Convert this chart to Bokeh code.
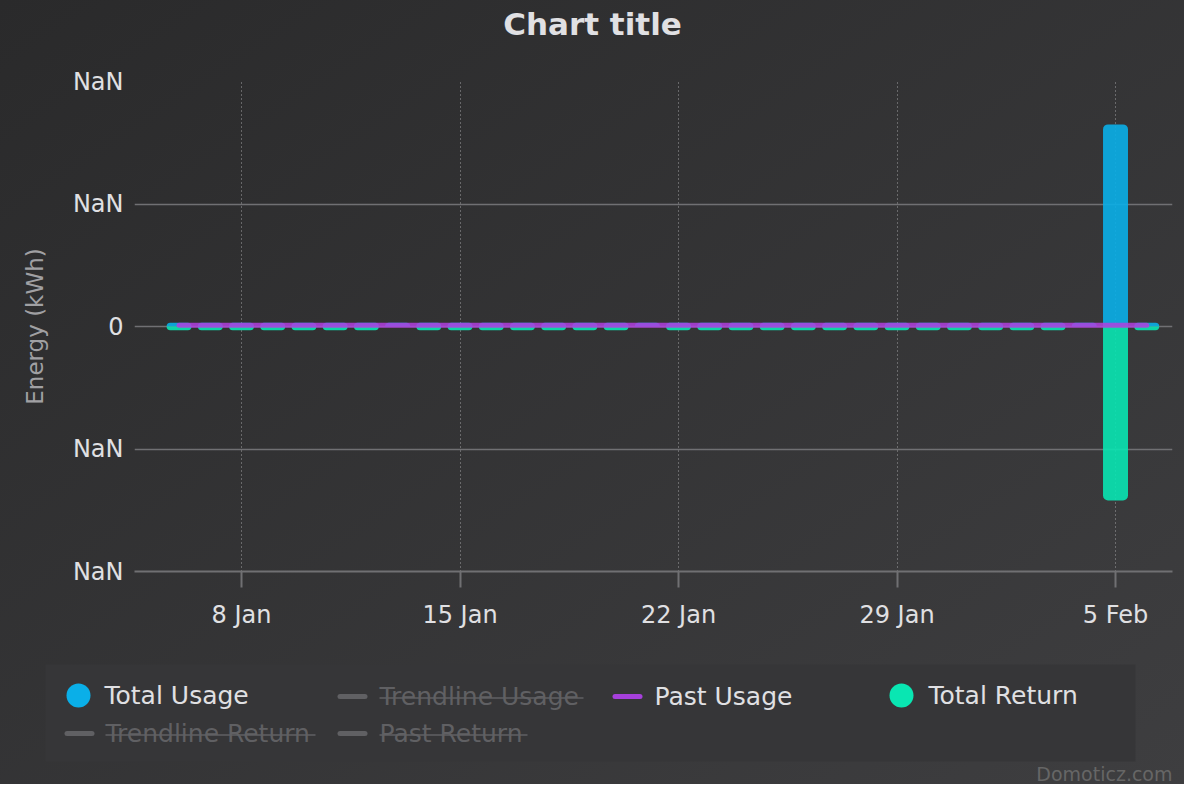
import pandas as pd
from bokeh.plotting import figure
from bokeh.layouts import column
from bokeh.models import Range1d, FixedTicker, ColumnDataSource
from bokeh.core.properties import value
from bokeh.embed import file_html
from bokeh.resources import INLINE

# ---------------- data ----------------
dates = pd.date_range("2024-01-06", "2024-02-06", freq="D")
total_usage = [0.3, 0.3, 0.3, 0.3, 0.3, 0.3, 0.3, 0.3, 0.3, 0.3,
               0.3, 0.3, 0.3, 0.3, 0.3, 0.3, 0.3, 0.3, 0.3, 0.3,
               0.3, 0.3, 0.3, 0.3, 0.3, 0.3, 0.3, 0.3, 0.3, 0.3,
               16.5, 0.3]
total_return = [-0.3, -0.3, -0.3, -0.3, -0.3, -0.3, -0.3, 0.0, -0.3, -0.3,
                -0.3, -0.3, -0.3, -0.3, -0.3, 0.0, -0.3, -0.3, -0.3, -0.3,
                -0.3, -0.3, -0.3, -0.3, -0.3, -0.3, -0.3, -0.3, -0.3, 0.0,
                -14.2, -0.3]
past_usage = [0.1, 0.1, 0.1, 0.1, 0.1, 0.1, 0.1, 0.1, 0.1, 0.1,
              0.1, 0.1, 0.1, 0.1, 0.1, 0.1, 0.1, 0.1, 0.1, 0.1,
              0.1, 0.1, 0.1, 0.1, 0.1, 0.1, 0.1, 0.1, 0.1, 0.1,
              0.1, 0.1]
x_tick_dates = ["2024-01-08", "2024-01-15", "2024-01-22", "2024-01-29", "2024-02-05"]
x_tick_labels = ["8 Jan", "15 Jan", "22 Jan", "29 Jan", "5 Feb"]
y_ticks = [-20, -10, 0, 10, 20]
y_tick_labels = ["NaN", "NaN", "0", "NaN", "NaN"]
legend_items = ["Total Usage", "Trendline Usage", "Past Usage",
                "Total Return", "Trendline Return", "Past Return"]
legend_hidden = [False, True, False, False, True, True]

# ---------------- style ----------------
W = 1184
OFF = 8             # page margin
TOP_SPLIT = 68      # reference y where the title strip ends
SPLIT = 650         # reference y where the chart part ends and the legend part starts
BOTTOM = 800 - OFF  # 792
H_HEAD = TOP_SPLIT - OFF
H_MAIN = SPLIT - TOP_SPLIT
H_LEG = BOTTOM - SPLIT
FONT = "DejaVu Sans"
TXT = "#E0E0E3"
HID = "#606063"
GRID = "#707073"
BLUE = "#0aafe8"
GREEN = "#09e6b2"
PURPLE = "#b03fdf"


def strip(height, y_top):
    """A figure whose data space is the reference picture's pixel space."""
    f = figure(width=W, height=height, x_range=Range1d(OFF, OFF + W),
               y_range=Range1d(y_top + height, y_top),
               output_backend="svg", toolbar_location=None, tools="",
               x_axis_location=None, y_axis_location=None, min_border=0)
    f.background_fill_color = None
    f.border_fill_color = None
    f.outline_line_color = None
    f.xgrid.visible = False
    f.ygrid.visible = False
    f.frame_align = False
    return f


# ---------------- title strip ----------------
hd = strip(H_HEAD, OFF)
hd.text(x=[600], y=[31.5], text=["Chart title"], text_font=value(FONT),
        text_font_size="31px", text_font_style="bold", text_color=TXT,
        text_align="center", text_baseline="middle")

# ---------------- main chart ----------------
src = ColumnDataSource(dict(date=dates, usage=total_usage,
                            ret=total_return, past=past_usage))

x_start = pd.Timestamp("2024-01-04 13:43")
x_end = pd.Timestamp("2024-02-06 19:49")

p = figure(width=W, height=H_MAIN, x_axis_type="datetime",
           x_range=Range1d(x_start, x_end), y_range=Range1d(-20, 20),
           output_backend="svg", toolbar_location=None, tools="",
           min_border_left=142 - OFF, min_border_top=89 - TOP_SPLIT,
           min_border_right=W - (1180 - OFF), min_border_bottom=SPLIT - 579)
p.background_fill_color = None
p.border_fill_color = None
p.outline_line_color = None
p.frame_align = False

day_ms = 24 * 3600 * 1000
bw = 0.8 * day_ms
p.vbar(x="date", top="usage", bottom=0, width=bw, source=src,
       fill_color=BLUE, fill_alpha=0.9, line_color=None, border_radius=(5, 5, 0, 0))
p.vbar(x="date", top=0, bottom="ret", width=bw, source=src,
       fill_color=GREEN, fill_alpha=0.9, line_color=None, border_radius=(0, 0, 5, 5))
p.line(x="date", y="past", source=src, line_color=PURPLE, line_alpha=0.85,
       line_width=5, line_cap="round", line_join="round")

xt = [pd.Timestamp(d).value // 10**6 for d in x_tick_dates]
p.xaxis.ticker = FixedTicker(ticks=xt)
p.xaxis.major_label_overrides = {t: l for t, l in zip(xt, x_tick_labels)}
p.xaxis.axis_line_color = GRID
p.xaxis.axis_line_width = 2
p.xaxis.major_tick_line_color = GRID
p.xaxis.major_tick_line_width = 2
p.xaxis.major_tick_out = 16
p.xaxis.major_tick_in = 0
p.xaxis.minor_tick_line_color = None
p.xaxis.major_label_text_font = FONT
p.xaxis.major_label_text_font_size = "24px"
p.xaxis.major_label_text_color = TXT
p.xaxis.major_label_standoff = 13

p.yaxis.ticker = FixedTicker(ticks=y_ticks)
p.yaxis.major_label_overrides = {t: l for t, l in zip(y_ticks, y_tick_labels)}
p.yaxis.axis_line_color = None
p.yaxis.major_tick_line_color = None
p.yaxis.major_tick_out = 0
p.yaxis.major_tick_in = 0
p.yaxis.minor_tick_line_color = None
p.yaxis.major_label_text_font = FONT
p.yaxis.major_label_text_font_size = "24px"
p.yaxis.major_label_text_color = TXT
p.yaxis.major_label_standoff = 11
p.yaxis.axis_label = "Energy (kWh)"
p.yaxis.axis_label_text_font = FONT
p.yaxis.axis_label_text_font_size = "23px"
p.yaxis.axis_label_text_font_style = "normal"
p.yaxis.axis_label_text_color = "#A0A0A3"
p.yaxis.axis_label_standoff = 22

p.ygrid.grid_line_color = GRID
p.ygrid.grid_line_width = 1.5
p.xgrid.grid_line_color = "#a0a0a3"
p.xgrid.grid_line_width = 1
p.xgrid.grid_line_dash = "1 3"

# ---------------- legend / credits strip ----------------
lg = strip(H_LEG, SPLIT)
lg.quad(left=[53], right=[1143], top=[672], bottom=[769],
        fill_color="#363638", line_color=None)

# (symbol, symbol x0, symbol x1, text x, row centre y)
item_layout = [("circle", 74, 98, 112, 703),
               ("line", 345, 375, 387, 704),
               ("line", 620, 650, 662, 704),
               ("circle", 897, 921, 936, 703),
               ("line", 72, 102, 113, 741),
               ("line", 345, 375, 387, 741)]
sym_colors = [BLUE, HID, "#a640dc", GREEN, HID, HID]
text_widths = [148, 204, 140, 155, 210, 148]

for (kind, x0, x1, tx, yc), name, hid, col, tw in zip(
        item_layout, legend_items, legend_hidden, sym_colors, text_widths):
    if kind == "circle":
        lg.scatter(x=[(x0 + x1) / 2], y=[yc], size=24, marker="circle",
                   fill_color=col, line_color=None)
    else:
        lg.segment(x0=[x0 + 2.5], x1=[x1 - 2.5], y0=[yc], y1=[yc],
                   line_color=col, line_width=5, line_cap="round")
    lg.text(x=[tx], y=[yc], text=[name], text_font=value(FONT),
            text_font_size="25px", text_color=HID if hid else TXT,
            text_align="left", text_baseline="middle")
    if hid:
        lg.segment(x0=[tx], x1=[tx + tw], y0=[yc + 1.5], y1=[yc + 1.5],
                   line_color=HID, line_width=1.5)

lg.text(x=[1180], y=[781], text=["Domoticz.com"], text_font=value(FONT),
        text_font_size="19px", text_color="#666666",
        text_align="right", text_baseline="middle")

page = column(hd, p, lg, spacing=0)
page.styles = {"background": "linear-gradient(to bottom right, #2a2a2b, #3e3e40)"}

open("out.html", "w").write(file_html(page, INLINE))
